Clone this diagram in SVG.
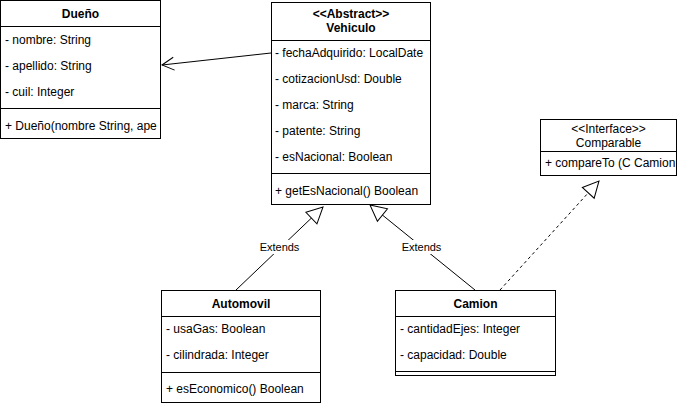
<svg xmlns="http://www.w3.org/2000/svg" width="681" height="406" viewBox="0 0 681 406">
<style>
.box{fill:#fff;stroke:#000;stroke-width:1}
.ln{stroke:#000;stroke-width:1;fill:none}
text{font-family:"Liberation Sans",Arial,Helvetica,sans-serif;font-size:12px;fill:#000}
.b{font-weight:bold}
.c{text-anchor:middle}
.lbl{font-size:11px;text-anchor:middle}
</style>
<defs>
<marker id="tri" markerWidth="20" markerHeight="20" viewBox="-1 -10 19 20" refX="16" refY="0" orient="auto" markerUnits="userSpaceOnUse">
<path d="M0,-8 L16,0 L0,8 Z" fill="#fff" stroke="#000" stroke-width="1"/>
</marker>
<marker id="open" markerWidth="16" markerHeight="16" viewBox="-1 -8 14 16" refX="12" refY="0" orient="auto" markerUnits="userSpaceOnUse">
<path d="M0,-6.5 L12,0 L0,6.5" fill="none" stroke="#000" stroke-width="1"/>
</marker>
<clipPath id="cD"><rect x="0" y="0" width="158" height="140"/></clipPath>
<clipPath id="cC"><rect x="540" y="119" width="136" height="58"/></clipPath>
</defs>
<rect width="681" height="406" fill="#fff"/>

<g id="connectors">
<line class="ln" x1="271" y1="53" x2="162" y2="65" marker-end="url(#open)"/>
<line class="ln" x1="236" y1="290" x2="323" y2="207" marker-end="url(#tri)"/>
<line class="ln" x1="475" y1="290" x2="370" y2="205" marker-end="url(#tri)"/>
<line class="ln" x1="500" y1="290" x2="599" y2="181" stroke-dasharray="3,3" marker-end="url(#tri)"/>
<rect x="259" y="240" width="41" height="14" fill="#fff"/>
<text class="lbl" x="279.5" y="251">Extends</text>
<rect x="401" y="240" width="41" height="14" fill="#fff"/>
<text class="lbl" x="421.5" y="251">Extends</text>
</g>

<g id="duenio">
<rect class="box" x="0.5" y="0.5" width="160" height="138"/>
<line class="ln" x1="0.5" y1="26.5" x2="160.5" y2="26.5"/>
<line class="ln" x1="0.5" y1="108.5" x2="160.5" y2="108.5"/>
<text class="b c" x="80.5" y="18">Dueño</text>
<text x="5" y="44">- nombre: String</text>
<text x="5" y="70">- apellido: String</text>
<text x="5" y="96">- cuil: Integer</text>
<text x="5" y="130" clip-path="url(#cD)">+ Dueño(nombre String, ape</text>
</g>

<g id="vehiculo">
<rect class="box" x="271.5" y="2.5" width="159" height="202"/>
<line class="ln" x1="271.5" y1="40.5" x2="430.5" y2="40.5"/>
<line class="ln" x1="271.5" y1="173.5" x2="430.5" y2="173.5"/>
<text class="b c" x="351" y="18">&lt;&lt;Abstract&gt;&gt;</text>
<text class="b c" x="351" y="32">Vehiculo</text>
<text x="275" y="57">- fechaAdquirido: LocalDate</text>
<text x="275" y="83">- cotizacionUsd: Double</text>
<text x="275" y="109">- marca: String</text>
<text x="275" y="135">- patente: String</text>
<text x="275" y="161">- esNacional: Boolean</text>
<text x="275" y="195">+ getEsNacional() Boolean</text>
</g>

<g id="comparable">
<rect class="box" x="540.5" y="119.5" width="136" height="56"/>
<line class="ln" x1="540.5" y1="151.5" x2="676.5" y2="151.5"/>
<text class="c" x="608.5" y="133">&lt;&lt;Interface&gt;&gt;</text>
<text class="c" x="608.5" y="147">Comparable</text>
<text x="545" y="167" clip-path="url(#cC)">+ compareTo (C Camion</text>
</g>

<g id="automovil">
<rect class="box" x="161.5" y="290.5" width="159" height="112"/>
<line class="ln" x1="161.5" y1="316.5" x2="320.5" y2="316.5"/>
<line class="ln" x1="161.5" y1="372.5" x2="320.5" y2="372.5"/>
<text class="b c" x="241" y="308">Automovil</text>
<text x="166" y="333">- usaGas: Boolean</text>
<text x="166" y="359">- cilindrada: Integer</text>
<text x="166" y="393">+ esEconomico() Boolean</text>
</g>

<g id="camion">
<rect class="box" x="395.5" y="290.5" width="160" height="85"/>
<line class="ln" x1="395.5" y1="316.5" x2="555.5" y2="316.5"/>
<line class="ln" x1="395.5" y1="371.5" x2="555.5" y2="371.5"/>
<text class="b c" x="475.5" y="308">Camion</text>
<text x="400" y="333">- cantidadEjes: Integer</text>
<text x="400" y="359">- capacidad: Double</text>
</g>
</svg>
